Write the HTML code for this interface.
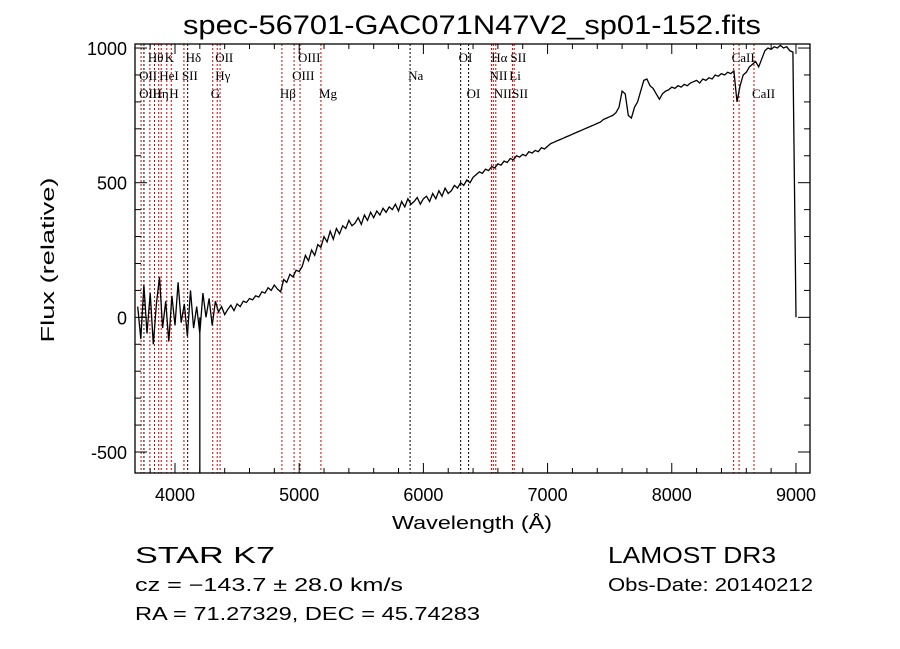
<!DOCTYPE html>
<html><head><meta charset="utf-8"><style>
body{margin:0;background:#fff}
svg{display:block}
text{fill:#000}
.sf{font-family:"Liberation Serif",serif}
.ss{font-family:"Liberation Sans",sans-serif}
</style></head><body>
<svg id="chart" width="900" height="649" viewBox="0 0 900 649" xmlns="http://www.w3.org/2000/svg">
<rect width="900" height="649" fill="#fff"/>
<text class="ss" x="472" y="34" font-size="27" text-anchor="middle" textLength="578" lengthAdjust="spacingAndGlyphs">spec-56701-GAC071N47V2_sp01-152.fits</text>
<g id="lines"></g>
<g id="labels"></g>
<path id="spec" fill="none" stroke="#000" stroke-width="1.3"/>
<g id="axes"></g>
<text class="ss" x="472" y="529" font-size="18" text-anchor="middle" textLength="160" lengthAdjust="spacingAndGlyphs">Wavelength (Å)</text>
<text class="ss" transform="translate(54,260) rotate(-90)" font-size="18" text-anchor="middle" textLength="165" lengthAdjust="spacingAndGlyphs">Flux (relative)</text>
<text class="ss" x="135" y="563" font-size="23" textLength="140" lengthAdjust="spacingAndGlyphs">STAR    K7</text>
<text class="ss" x="135" y="591" font-size="18" textLength="268" lengthAdjust="spacingAndGlyphs">cz = −143.7 ± 28.0 km/s</text>
<text class="ss" x="135" y="620" font-size="18" textLength="345" lengthAdjust="spacingAndGlyphs">RA =  71.27329, DEC =  45.74283</text>
<text class="ss" x="608" y="563" font-size="23" textLength="168" lengthAdjust="spacingAndGlyphs">LAMOST DR3</text>
<text class="ss" x="608" y="591" font-size="18" textLength="205" lengthAdjust="spacingAndGlyphs">Obs-Date: 20140212</text>
</svg>
<script>
const wlStart = 3700, wlStep = 25;
const flux = [40,-80,120,-60,90,-100,50,150,-40,60,-90,80,-30,130,-20,50,-70,100,-40,40,-60,90,0,70,-30,60,20,40,10,
30,45,25,50,40,60,55,70,65,80,75,95,90,110,100,120,105,95,140,130,160,150,175,170,
190,230,210,250,230,270,260,300,280,320,290,330,310,340,330,360,340,350,370,345,380,360,390,370,395,380,405,390,410,400,420,395,430,410,440,420,430,445,420,440,
450,430,460,440,470,450,480,460,470,490,480,500,490,510,500,520,530,540,535,550,545,560,555,570,565,580,575,590,585,600,595,605,600,615,610,620,615,630,625,635,
645,650,655,660,665,670,675,680,685,690,695,700,705,710,715,720,725,735,740,745,750,760,780,840,830,750,740,780,800,840,880,885,860,850,830,810,830,840,845,855,
850,860,855,865,860,870,875,880,870,885,880,890,885,900,895,905,900,910,905,915,800,860,900,910,930,940,950,930,960,990,1000,995,1005,1000,1010,1000,1005,990,985,0];
const spikeWl = [4200], spikeFlux = [-580];
const lineWl = [3727,3750,3798,3835,3869,3889,3934,3970,4072,4102,4304,4340,4363,4861,4959,5007,5175,5893,6300,6364,6548,6563,6583,6717,6731,8498,8542,8662];
const lineRed = [1,0,1,1,1,1,1,1,1,0,1,1,1,1,1,1,1,0,0,0,1,1,1,1,1,1,1,1];
const labelText = ["Hθ","K","Hδ","OII","OIII","OI","Hα","SII","CaII","OII","HeI","SII","Hγ","OIII","Na","NII","Li","OIII","Hη","H","G","Hβ","Mg","OI","NII","SII","CaII"];
const labelWl = [3798,3934,4102,4340,5007,6300,6563,6717,8498,3727,3889,4072,4340,4959,5893,6548,6708,3727,3835,3970,4304,4861,5175,6364,6583,6731,8662];
const labelRow = [0,0,0,0,0,0,0,0,0,1,1,1,1,1,1,1,1,2,2,2,2,2,2,2,2,2,2];
const xTicks = [4000,5000,6000,7000,8000,9000];
const yTicks = [-500,0,500,1000];

const L=135,R=810,T=44,B=473, X0=3678, X1=9113, Y0=-578, Y1=1015;
const xs = w => L+(w-X0)/(X1-X0)*(R-L);
const ys = f => B-(Math.max(Y0,Math.min(Y1,f))-Y0)/(Y1-Y0)*(B-T);
const NS="http://www.w3.org/2000/svg";
function mk(tag, parent, attrs){const e=document.createElementNS(NS,tag);for(const k in attrs)e.setAttribute(k,attrs[k]);parent.appendChild(e);return e;}

const lg=document.getElementById('lines');
lineWl.forEach((w,i)=>{
  const e=mk('line',lg,{x1:xs(w),x2:xs(w),y1:T,y2:B,stroke:lineRed[i]?'#c00':'#000','stroke-width':1,'stroke-dasharray':'2,2'});
  
  
});
const lb=document.getElementById('labels');
labelText.forEach((t,i)=>{
  const e=mk('text',lb,{x:xs(labelWl[i])-2,y:62+labelRow[i]*18,'font-size':13,'class':'sf'});
  e.textContent=t;
  
  
});
let d='';
flux.forEach((f,i)=>{const w=wlStart+i*wlStep; d+=(i?'L':'M')+xs(w).toFixed(1)+','+ys(f).toFixed(1);});
spikeWl.forEach((w,i)=>{d+='M'+xs(w)+','+ys(0)+'L'+xs(w)+','+ys(spikeFlux[i]);});
document.getElementById('spec').setAttribute('d',d);

const ax=document.getElementById('axes');
const fr=mk('rect',ax,{x:L,y:T,width:R-L,height:B-T,fill:'none',stroke:'#000','stroke-width':1.3});


for(let w=3800;w<=9100;w+=200){const x=xs(w),len=(w%1000===0)?10:5;
  mk('line',ax,{x1:x,x2:x,y1:B,y2:B-len,stroke:'#000'});mk('line',ax,{x1:x,x2:x,y1:T,y2:T+len,stroke:'#000'});}
for(let f=-500;f<=1000;f+=100){const y=ys(f),len=(f%500===0)?12:6;
  mk('line',ax,{x1:L,x2:L+len,y1:y,y2:y,stroke:'#000'});mk('line',ax,{x1:R,x2:R-len,y1:y,y2:y,stroke:'#000'});}
xTicks.forEach(v=>{const t=mk('text',ax,{x:xs(v),y:B+28,'font-size':18,'text-anchor':'middle','class':'ss'});t.textContent=v;
  
  });
yTicks.forEach(v=>{const t=mk('text',ax,{x:L-8,y:ys(v)+7,'font-size':18,'text-anchor':'end','class':'ss'});t.textContent=v;
  
  });
</script>
</body></html>
